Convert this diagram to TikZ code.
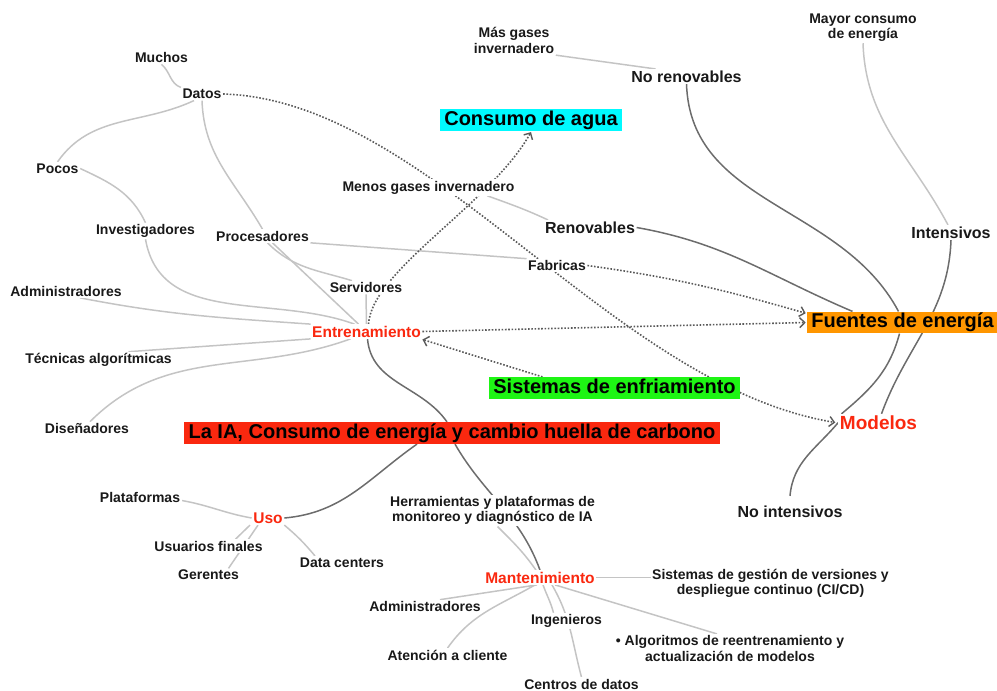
\documentclass[tikz,border=0pt]{standalone}
\usepackage{fontspec}
\setmainfont{Liberation Sans}
\usetikzlibrary{arrows.meta}
\usetikzlibrary{backgrounds}
\definecolor{iared}{RGB}{250,40,15}
\definecolor{aguacyan}{RGB}{0,250,255}
\definecolor{fuenteorange}{RGB}{255,150,0}
\definecolor{frioverde}{RGB}{30,245,20}
\definecolor{lightline}{RGB}{196,196,196}
\definecolor{darkline}{RGB}{108,108,108}
\definecolor{flowline}{RGB}{90,90,90}
\tikzstyle{leaf}=[
      rectangle,
      inner sep = 1.5pt,
      fill = white,
      align = center,
      text = black!90,
      font = \bfseries\fontsize{14}{15.5}\selectfont
      ]
\tikzstyle{midleaf}=[leaf, font = \bfseries\fontsize{16}{18}\selectfont]
\tikzstyle{branch}=[leaf, text = iared, font = \bfseries\fontsize{15.5}{17}\selectfont]
\tikzstyle{topicbox}=[
      rectangle,
      inner xsep = 4.5pt,
      inner ysep = 1.5pt,
      text height = 14.5pt,
      text depth = 4.3pt,
      text = black,
      font = \bfseries\fontsize{20}{22}\selectfont
      ]
\tikzstyle{lightedge}=[draw = lightline, line width = 1.5pt]
\tikzstyle{darkedge}=[draw = darkline, line width = 1.5pt]
\tikzstyle{flow}=[
      draw = flowline,
      line width = 1.6pt,
      dash pattern = on 1.6pt off 1.7pt,
      -{Straight Barb[length=5pt,width=10pt,line width=1.4pt]}
      ]

\begin{document}
\begin{tikzpicture}[x=1pt,y=-1pt]
\useasboundingbox (0,0) rectangle (997,691);

% main topics
\node [topicbox, fill = iared] (ia) at (452,433)
  {La IA, Consumo de energía y cambio huella de carbono};
\node [topicbox, fill = aguacyan] (agua) at (531,120) {Consumo de agua};
\node [topicbox, fill = fuenteorange] (fuentes) at (902.5,322.5) {Fuentes de energía};
\node [topicbox, fill = frioverde] (sistemas) at (614.5,388) {Sistemas de enfriamiento};

\node [branch] (entren) at (366.5,331.5) {Entrenamiento};
\node [branch] (uso) at (268,518) {Uso};
\node [branch] (mant) at (540,577.5) {Mantenimiento};
\node [branch, font = \bfseries\fontsize{19}{21}\selectfont] (modelos) at (878.5,422.5) {Modelos};

% Entrenamiento
\node [leaf] (muchos) at (161.5,57.5) {Muchos};
\node [leaf] (datos) at (202,94) {Datos};
\node [leaf] (pocos) at (57.5,168.5) {Pocos};
\node [leaf] (invest) at (145.5,231) {Investigadores};
\node [leaf] (proces) at (262.5,236) {Procesadores};
\node [leaf] (admin1) at (66,291) {Administradores};
\node [leaf] (servid) at (366,287.5) {Servidores};
\node [leaf] (tecnicas) at (98.5,360) {Técnicas algorítmicas};
\node [leaf] (disen) at (87,428.5) {Diseñadores};

% energia
\node [leaf] (masgases) at (514,40.5) {Más gases\\invernadero};
\node [midleaf] (norenov) at (686.5,76.5) {No renovables};
\node [leaf] (mayor) at (863,27.5) {Mayor consumo\\de energía};
\node [leaf] (menos) at (428.5,187.5) {Menos gases invernadero};
\node [midleaf] (renov) at (590,227.5) {Renovables};
\node [leaf] (fabricas) at (557,265.5) {Fabricas};
\node [midleaf] (intens) at (951,232.5) {Intensivos};
\node [midleaf] (nointens) at (790,511.5) {No intensivos};

% Uso
\node [leaf] (plataf) at (140,497.5) {Plataformas};
\node [leaf] (usuarios) at (208.5,546) {Usuarios finales};
\node [leaf] (gerentes) at (208.5,575) {Gerentes};
\node [leaf] (datacenters) at (342,562.5) {Data centers};

% Mantenimiento
\node [leaf] (herram) at (492.5,510.5)
  {Herramientas y plataformas de\\monitoreo y diagnóstico de IA};
\node [leaf] (sisgest) at (770.5,583.5)
  {Sistemas de gestión de versiones y\\despliegue continuo (CI/CD)};
\node [leaf] (admin2) at (425,606.5) {Administradores};
\node [leaf] (ingen) at (566.5,621) {Ingenieros};
\node [leaf] (algor) at (730,648.5)
  {• Algoritmos de reentrenamiento y\\actualización de modelos};
\node [leaf] (atencion) at (447.5,655) {Atención a cliente};
\node [leaf] (centros) at (581.5,684) {Centros de datos};

\begin{scope}[on background layer]
\draw [lightedge] (muchos.south) to[out=-40,in=160] (datos.north west);
\draw [lightedge] ([xshift=-8pt]datos.south) to[out=-155,in=55] (pocos.north);
\draw [lightedge] (pocos.east) to[out=-25,in=115] (invest.north);
\draw [lightedge] (invest.south) to[out=-80,in=160] ([xshift=-12pt]entren.north);
\draw [lightedge] (datos.south) to[out=-88,in=120] (proces.north);
\draw [lightedge] ([xshift=10pt]proces.south) -- ([xshift=-8pt]entren.north);
\draw [lightedge] ([xshift=5pt]proces.south) to[out=-45,in=163] ([xshift=-14pt]servid.north);
\draw [lightedge] (proces.south east) -- (fabricas.north west);
\draw [lightedge] (servid.south) -- (entren.north);
\draw [lightedge] ([xshift=14pt]admin1.south) to[out=-11,in=176] (entren.north west);
\draw [lightedge] ([xshift=30pt]tecnicas.north) -- (entren.south west);
\draw [lightedge] ([xshift=3pt]disen.north) to[out=45,in=-160] ([xshift=-16pt]entren.south);

\draw [lightedge] (masgases.south east) -- ([xshift=-31pt]norenov.north);
\draw [lightedge] (menos.-8) to[out=-20,in=155] ([xshift=-42pt]renov.north);
\draw [lightedge] (mayor.south) to[out=-88,in=118] ([xshift=-3pt]intens.north);

\draw [lightedge] ([yshift=-3pt]plataf.east) to[out=-10,in=170] (uso.west);
\draw [lightedge] ([xshift=-18pt]uso.south) -- ([xshift=27pt]usuarios.north);
\draw [lightedge] ([xshift=-10pt]uso.south) -- ([xshift=20pt]gerentes.north);
\draw [lightedge] (uso.south east) to[out=-40,in=130] ([xshift=-27pt]datacenters.north);

\draw [lightedge] ([xshift=5pt]herram.south) to[out=-45,in=125] ([xshift=-4pt]mant.north);
\draw [lightedge] (mant.east) -- (mant.east -| sisgest.west);
\draw [lightedge] ([xshift=-3pt]mant.south) -- ([xshift=15pt]admin2.north);
\draw [lightedge] ([xshift=-5pt]mant.south) to[out=-150,in=55] (atencion.north);
\draw [lightedge] ([xshift=3pt]mant.south) to[out=-70,in=105] ([xshift=-13pt]ingen.north);
\draw [lightedge] ([xshift=12pt]mant.south) to[out=-60,in=105] (centros.north);
\draw [lightedge] ([xshift=15pt]mant.south) -- ([xshift=-13pt]algor.north);

\draw [darkedge] ([xshift=1pt]entren.south) to[out=-85,in=125] ([xshift=-5pt]ia.north);
\draw [darkedge] ([xshift=3pt]ia.south) to[out=-60,in=110] (mant.north);
\draw [darkedge] (uso.east) to[out=5,in=-145] ([xshift=-35pt]ia.south);
\draw [darkedge] (norenov.south) to[out=-88,in=118] ([xshift=-4pt]fuentes.north);
\draw [darkedge] (renov.east) to[out=-10,in=157] ([xshift=-50pt]fuentes.north);
\draw [darkedge] ([xshift=-3pt]fuentes.south) to[out=-105,in=40] ([xshift=-37pt]modelos.north);
\draw [darkedge] (intens.south) to[out=-92,in=70] ([xshift=3pt]modelos.north);
\draw [darkedge] ([yshift=8pt]nointens.north) to[out=85,in=-130] (modelos.west);

\draw [flow] (datos.east) .. controls (430,100) and (610,385) .. ([xshift=-3pt]modelos.west);
\draw [flow] ([xshift=2pt]entren.north) .. controls (372,270) and (490,205) .. ([yshift=-1pt]agua.south);
\draw [flow, shorten >=1pt] (entren.east) -- (fuentes.west);
\draw [flow, shorten >=1pt] (fabricas.east) to[out=-8,in=164] ([yshift=9pt]fuentes.west);
\draw [flow] ([xshift=-72pt]sistemas.north) -- ([yshift=-8pt]entren.east);
\end{scope}
\end{tikzpicture}
\end{document}
